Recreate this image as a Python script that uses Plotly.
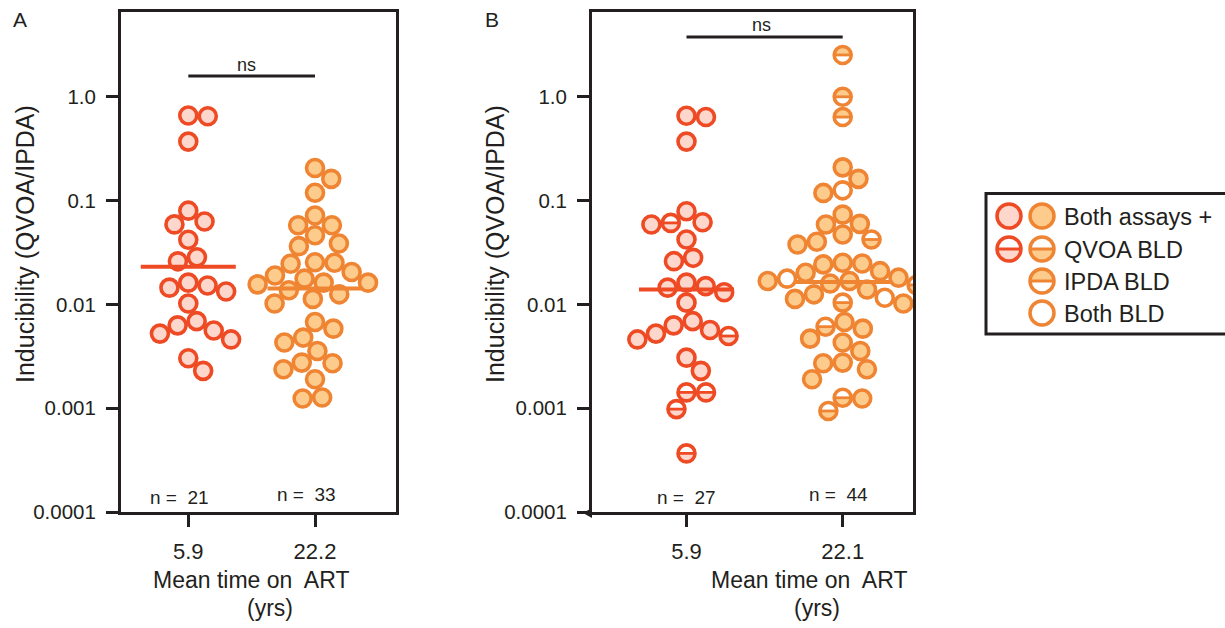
import math
import plotly.graph_objects as go

# ---------------- data ----------------
groups_A = ["5.9", "22.2"]
groups_B = ["5.9", "22.1"]

A_early = [0.66, 0.65, 0.37, 0.080, 0.063, 0.059, 0.042, 0.0285, 0.026, 0.0162,
           0.0152, 0.0145, 0.0133, 0.0102, 0.0069, 0.00628, 0.0056, 0.00523,
           0.0046, 0.00303, 0.00229]
A_late = [0.206, 0.162, 0.119, 0.0718, 0.0578, 0.0578, 0.0464, 0.0386, 0.0364,
          0.0255, 0.0252, 0.0246, 0.0205, 0.0190, 0.0177, 0.0162, 0.0162, 0.0156,
          0.0137, 0.0125, 0.0113, 0.0102, 0.00676, 0.00584, 0.00479, 0.00429,
          0.00356, 0.00275, 0.00271, 0.00237, 0.00190, 0.00127, 0.00124]

B_early = [0.656, 0.638, 0.37, 0.0789, 0.0618, 0.061, 0.0588, 0.0422, 0.0281,
           0.0261, 0.0162, 0.0150, 0.0145, 0.0131, 0.0104, 0.0069, 0.00628,
           0.00566, 0.00523, 0.00496, 0.0046, 0.00307, 0.00229, 0.00142,
           0.00142, 0.00098, 0.000367]
B_early_type = ["pos", "pos", "pos", "pos", "pos", "qvoa", "pos", "pos", "pos",
                "pos", "pos", "pos", "pos", "pos", "pos", "pos", "pos",
                "pos", "pos", "qvoa", "pos", "pos", "pos", "qvoa",
                "qvoa", "qvoa", "qvoa"]
B_late = [2.53, 1.0, 0.638, 0.209, 0.162, 0.1256, 0.1186, 0.0733, 0.0597, 0.0588,
          0.0471, 0.0422, 0.0401, 0.0378, 0.0252, 0.0248, 0.0243, 0.0209, 0.0202,
          0.0181, 0.0177, 0.0168, 0.0168, 0.0154, 0.0159, 0.0139, 0.0125, 0.0116,
          0.0113, 0.0104, 0.0102, 0.00676, 0.0061, 0.00584, 0.00468, 0.00429,
          0.00356, 0.00275, 0.00271, 0.00237, 0.0019, 0.00126, 0.00124, 0.00094]
B_late_type = ["ipda", "ipda", "ipda", "pos", "pos", "both", "pos", "pos", "pos", "pos",
               "pos", "qvoa", "pos", "pos", "pos", "pos", "pos", "pos", "pos",
               "pos", "both", "pos", "pos", "qvoa", "pos", "pos", "pos", "both",
               "pos", "qvoa", "pos", "pos", "qvoa", "pos", "pos", "pos",
               "pos", "pos", "pos", "pos", "pos", "qvoa", "pos", "qvoa"]

# summary (geometric mean / centre) lines shown in the reference
A_center = [0.0231, 0.0142]
B_center = [0.0139, 0.0164]

y_tick_vals = [0.0001, 0.001, 0.01, 0.1, 1.0]
y_tick_text = ["0.0001", "0.001", "0.01", "0.1", "1.0"]

legend_labels = ["Both assays +", "QVOA BLD", "IPDA BLD", "Both BLD"]
y_title = "Inducibility (QVOA/IPDA)"
x_title = ["Mean time on\u00a0 ART", "(yrs)"]

# ---------------- styling / layout ----------------
W, H = 1225, 628
FONT = "Liberation Sans, Arial, Helvetica, sans-serif"
INK = "#231f20"
RED, RED_FILL = "#ee4a24", "#fdd6cc"
ORG, ORG_FILL = "#ef8433", "#fdcc8c"
CLEAR = "rgba(255,255,255,0)"

Y_TOP_PX, Y_BOT_PX = 12, 512
Y_RANGE = [-4.0, 0.817]
A_PX = (121, 396)
B_PX = (592, 913)
A_XR = [-0.531, 1.639]
B_XR = [-0.605, 1.45]

PPD = (Y_BOT_PX - Y_TOP_PX) / (Y_RANGE[1] - Y_RANGE[0])  # pixels per decade
MS = 17          # marker size
MLW = 3.6        # marker outline width
DIAM = 19.5      # swarm spacing
HALF_R = 7.5


def swarm_offsets(vals):
    ys = [math.log10(v) * PPD for v in vals]
    order = sorted(range(len(vals)), key=lambda i: -ys[i])
    placed, offs = [], [0.0] * len(vals)
    for i in order:
        y = ys[i]
        ivs, cands = [], [0.0]
        for px, py in placed:
            dy = abs(y - py)
            if dy < DIAM:
                h = math.sqrt(DIAM * DIAM - dy * dy)
                ivs.append((px - h, px + h))
                cands += [px - h, px + h]
        cands.sort(key=lambda c: (round(abs(c), 6), -c))
        for c in cands:
            if all(not (a + 1e-6 < c < b - 1e-6) for a, b in ivs):
                offs[i] = c
                break
        placed.append((offs[i], y))
    return offs


def half_path(kind, r):
    pts = []
    n = 18
    for k in range(n + 1):
        t = math.pi * k / n
        x = r * math.cos(t)
        y = r * math.sin(t)
        pts.append((x, -y if kind == "qvoa" else y))
    return "M " + " L ".join(f"{x:.2f},{y:.2f}" for x, y in pts) + " Z"


fig = go.Figure()
shapes = []
annotations = []


def px_annot(xpx, ypx, text, size, xanchor="center", angle=0, xref="paper", xval=None,
             xshift=0):
    annotations.append(dict(
        x=(xpx / W) if xval is None else xval, y=1 - ypx / H, xref=xref, yref="paper",
        text=text, showarrow=False, xanchor=xanchor, yanchor="middle",
        textangle=angle, xshift=xshift,
        font=dict(size=size, color=INK, family=FONT)))


def add_group(ax, cat, vals, types, stroke, fill, px_per_unit):
    xa, ya = ("x", "y") if ax == 1 else ("x2", "y2")
    offs = swarm_offsets(vals)
    xs = [cat + o / px_per_unit for o in offs]
    colors = []
    for t in types:
        if t == "pos":
            colors.append(fill)
        elif t == "both":
            colors.append("white")
        else:
            colors.append(CLEAR)
    fig.add_trace(go.Scatter(
        x=xs, y=vals, mode="markers", xaxis=xa, yaxis=ya, showlegend=False,
        marker=dict(symbol="circle", size=MS, color=colors,
                    line=dict(color=stroke, width=MLW)),
        hoverinfo="y"))
    hx = [x for x, t in zip(xs, types) if t in ("qvoa", "ipda")]
    hy = [v for v, t in zip(vals, types) if t in ("qvoa", "ipda")]
    if hx:
        fig.add_trace(go.Scatter(
            x=hx, y=hy, mode="markers", xaxis=xa, yaxis=ya, showlegend=False,
            marker=dict(symbol="line-ew", size=MS * 0.72,
                        line=dict(color=stroke, width=2.8)),
            hoverinfo="skip"))
    for x, v, t in zip(xs, vals, types):
        if t in ("qvoa", "ipda"):
            shapes.append(dict(type="path", xref=xa, yref=ya,
                               xsizemode="pixel", ysizemode="pixel",
                               xanchor=x, yanchor=v, path=half_path(t, HALF_R),
                               fillcolor=fill, line=dict(width=0), layer="below"))


def add_center(ax, cat, val, stroke, px_per_unit):
    xa, ya = ("x", "y") if ax == 1 else ("x2", "y2")
    hw = 47.5 / px_per_unit
    fig.add_trace(go.Scatter(x=[cat - hw, cat + hw], y=[val, val], mode="lines",
                             xaxis=xa, yaxis=ya, showlegend=False,
                             line=dict(color=stroke, width=4), hoverinfo="skip"))


ppu_A = (A_PX[1] - A_PX[0]) / (A_XR[1] - A_XR[0])
ppu_B = (B_PX[1] - B_PX[0]) / (B_XR[1] - B_XR[0])

add_group(1, 0, A_early, ["pos"] * len(A_early), RED, RED_FILL, ppu_A)
add_group(1, 1, A_late, ["pos"] * len(A_late), ORG, ORG_FILL, ppu_A)
add_group(2, 0, B_early, B_early_type, RED, RED_FILL, ppu_B)
add_group(2, 1, B_late, B_late_type, ORG, ORG_FILL, ppu_B)
add_center(1, 0, A_center[0], RED, ppu_A)
add_center(1, 1, A_center[1], ORG, ppu_A)
add_center(2, 0, B_center[0], RED, ppu_B)
add_center(2, 1, B_center[1], ORG, ppu_B)

# ---------------- legend (drawn on a pixel-space helper axis) ----------------
leg_rows = [216, 249, 281, 313]
leg_x_red, leg_x_org, leg_x_text = 1009, 1042, 1062
leg_items = [  # (x, row, kind, stroke, fill)
    (leg_x_red, 0, "pos", RED, RED_FILL), (leg_x_org, 0, "pos", ORG, ORG_FILL),
    (leg_x_red, 1, "qvoa", RED, RED_FILL), (leg_x_org, 1, "qvoa", ORG, ORG_FILL),
    (leg_x_org, 2, "ipda", ORG, ORG_FILL), (leg_x_org, 3, "both", ORG, ORG_FILL),
]
LMS = 24
for x, row, kind, stroke, fill in leg_items:
    y = leg_rows[row]
    col = fill if kind == "pos" else ("white" if kind == "both" else CLEAR)
    fig.add_trace(go.Scatter(x=[x], y=[y], mode="markers", xaxis="x3", yaxis="y3",
                             showlegend=False, hoverinfo="skip",
                             marker=dict(symbol="circle", size=LMS, color=col,
                                         line=dict(color=stroke, width=3.5))))
    if kind in ("qvoa", "ipda"):
        fig.add_trace(go.Scatter(x=[x], y=[y], mode="markers", xaxis="x3", yaxis="y3",
                                 showlegend=False, hoverinfo="skip",
                                 marker=dict(symbol="line-ew", size=LMS * 0.72,
                                             line=dict(color=stroke, width=3))))
        shapes.append(dict(type="path", xref="x3", yref="y3",
                           xsizemode="pixel", ysizemode="pixel",
                           xanchor=x, yanchor=y, path=half_path(kind, 11),
                           fillcolor=fill, line=dict(width=0), layer="below"))
for row, lab in enumerate(legend_labels):
    px_annot(leg_x_text, leg_rows[row] + 1, lab, 23.5, xanchor="left")
shapes.append(dict(type="rect", xref="paper", yref="paper", x0=986 / W, x1=1.02,
                   y0=1 - 334 / H, y1=1 - 193.5 / H, line=dict(color=INK, width=3),
                   fillcolor=CLEAR, layer="below"))

# small axis-end arrow at the bottom-left of panel B (as in the reference)
shapes.append(dict(type="path", xref="paper", yref="paper", fillcolor=INK,
                   line=dict(width=0),
                   path=f"M {583 / W},{1 - 513 / H} L {592 / W},{1 - 508 / H} "
                        f"L {592 / W},{1 - 518 / H} Z"))

# ---------------- brackets, n labels, titles, panel letters ----------------
for xa, ypx, txt_ypx, xs in [("x", 76, 65, -5), ("x2", 37, 25, -3)]:
    shapes.append(dict(type="line", xref=xa, yref="paper", x0=0, x1=1,
                       y0=1 - ypx / H, y1=1 - ypx / H, line=dict(color=INK, width=2.8)))
    px_annot(0, txt_ypx, "ns", 18, xref=xa, xval=0.5, xshift=xs)

for xa, vals_pair, shifts in [("x", (A_early, A_late), (-9, -9)),
                              ("x2", (B_early, B_late), (0, -4))]:
    for cat, vals, ypx in [(0, vals_pair[0], 497), (1, vals_pair[1], 494)]:
        px_annot(0, ypx, f"n =  {len(vals)}", 19, xref=xa, xval=cat, xshift=shifts[cat])

px_annot(25, 244, y_title, 25, angle=-90)
px_annot(495, 244, y_title, 25, angle=-90)
px_annot(251, 580, x_title[0], 23)
px_annot(270, 608, x_title[1], 23)
px_annot(809, 580, x_title[0], 23)
px_annot(817, 608, x_title[1], 23)
px_annot(11, 20, "A", 21, xanchor="left")
px_annot(483, 20, "B", 21, xanchor="left")

# ---------------- axes ----------------
minor_vals = [k * 10.0 ** e for e in range(-4, 1) for k in range(2, 10)]
minor_vals = [v for v in minor_vals if math.log10(v) < Y_RANGE[1]]

ydom = [1 - Y_BOT_PX / H, 1 - Y_TOP_PX / H]


def yaxis_cfg(anchor):
    return dict(type="log", range=Y_RANGE, domain=ydom, anchor=anchor,
                automargin=False,
                tickmode="array", tickvals=y_tick_vals, ticktext=y_tick_text,
                ticks="outside", ticklen=12, tickwidth=2.8, tickcolor=INK,
                showline=True, linewidth=3, linecolor=INK, mirror=True,
                showgrid=False, zeroline=False, ticklabelstandoff=6,
                tickfont=dict(size=20.5, color=INK, family=FONT))


def yaxis_minor_cfg(overlay, anchor):
    return dict(type="log", range=Y_RANGE, domain=ydom, anchor=anchor,
                overlaying=overlay, side="left", automargin=False,
                tickmode="array", tickvals=minor_vals,
                ticktext=[""] * len(minor_vals), showticklabels=False,
                ticks="outside", ticklen=8, tickwidth=2.4, tickcolor=INK,
                showline=False, showgrid=False, zeroline=False)


def xaxis_cfg(px, xr, labels, anchor):
    return dict(domain=[px[0] / W, px[1] / W], range=xr, anchor=anchor,
                automargin=False,
                tickmode="array", tickvals=[0, 1], ticktext=labels,
                ticks="outside", ticklen=12, tickwidth=3, tickcolor=INK,
                showline=True, linewidth=3, linecolor=INK, mirror=True,
                showgrid=False, zeroline=False, ticklabelstandoff=6,
                tickfont=dict(size=22, color=INK, family=FONT))


fig.update_layout(
    width=W, height=H, margin=dict(l=0, r=0, t=0, b=0, autoexpand=False),
    paper_bgcolor="white", plot_bgcolor=CLEAR,
    font=dict(family=FONT, color=INK),
    xaxis=xaxis_cfg(A_PX, A_XR, groups_A, "y"),
    yaxis=yaxis_cfg("x"),
    xaxis2=xaxis_cfg(B_PX, B_XR, groups_B, "y2"),
    yaxis2=yaxis_cfg("x2"),
    yaxis4=yaxis_minor_cfg("y", "x"),
    yaxis5=yaxis_minor_cfg("y2", "x2"),
    xaxis3=dict(domain=[0, 1], range=[0, W], anchor="y3", visible=False,
                fixedrange=True, automargin=False),
    yaxis3=dict(domain=[0, 1], range=[H, 0], anchor="x3", visible=False,
                fixedrange=True, automargin=False),
    shapes=shapes, annotations=annotations, showlegend=False,
)

fig.write_html("out.html", config={"displayModeBar": False},
               post_script="document.body.style.margin='0';"
                           "document.body.style.padding='0';")
